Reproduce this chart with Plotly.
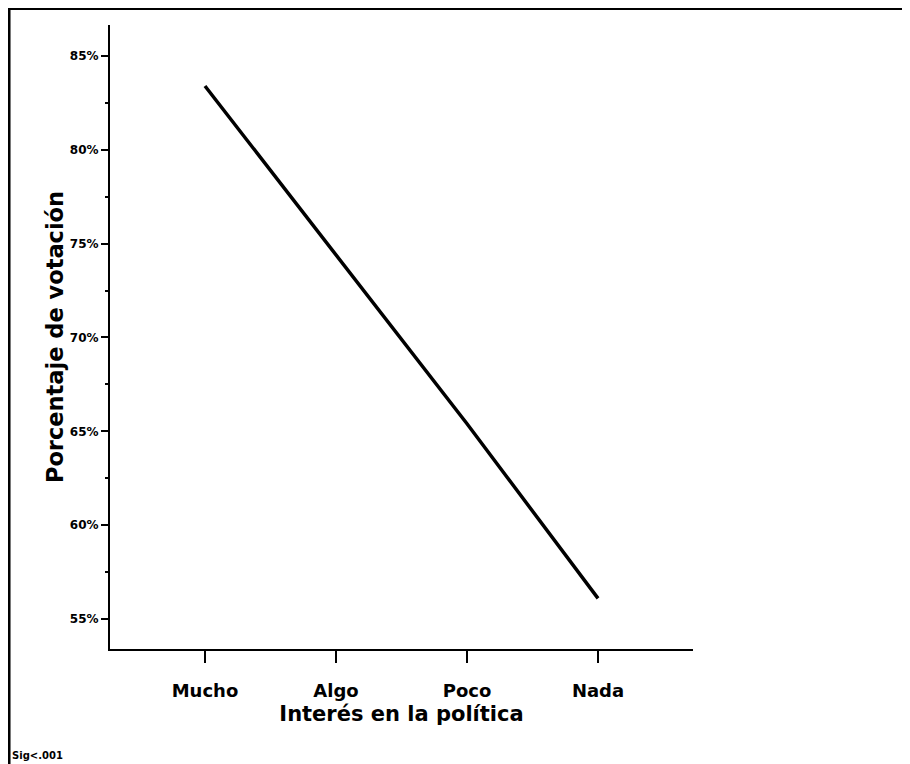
import plotly.graph_objects as go

# interés en la política vs porcentaje de votación
categorias = ['Mucho', 'Algo', 'Poco', 'Nada']
votacion = [83.4, 74.4, 65.4, 56.1]
ticks_y = [55, 60, 65, 70, 75, 80, 85]
etiquetas_y = [f'{v}%' for v in ticks_y]

fuente = 'DejaVu Sans'

fig = go.Figure()
fig.add_trace(go.Scatter(x=list(range(len(categorias))), y=votacion, mode='lines',
                         line=dict(color='black', width=3.5), showlegend=False))

fig.update_xaxes(range=[-0.725, 3.725], tickvals=list(range(len(categorias))), ticktext=categorias,
                 showline=True, linecolor='black', linewidth=2, showgrid=False, zeroline=False,
                 ticks='outside', ticklen=12, tickwidth=2, tickcolor='black', ticklabelstandoff=12,
                 tickfont=dict(family=fuente, size=18, color='black', weight='bold'),
                 title=dict(text='Interés en la política', standoff=7,
                            font=dict(family=fuente, size=21, color='black', weight='bold')))
fig.update_yaxes(range=[53.4, 86.65], tickvals=ticks_y, ticktext=etiquetas_y,
                 showline=True, linecolor='black', linewidth=2, showgrid=False, zeroline=False,
                 ticks='outside', ticklen=7, tickwidth=2, tickcolor='black',
                 minor=dict(dtick=2.5, tick0=55, ticks='outside', ticklen=3, tickwidth=2, tickcolor='black'),
                 tickfont=dict(family=fuente, size=12, color='black', weight='bold'),
                 title=dict(text='Porcentaje de votación', standoff=0,
                            font=dict(family=fuente, size=22.5, color='black', weight='bold')))

# marco de la figura (solo se ven los bordes superior e izquierdo)
fig.add_shape(type='rect', xref='paper', yref='paper', x0=-0.1732, x1=1.377, y0=-0.19, y1=1.0264,
              line=dict(color='black', width=3))

fig.add_annotation(text='Sig<.001', xref='paper', yref='paper', x=-0.1715, y=-0.1699,
                   xanchor='left', yanchor='middle', showarrow=False,
                   font=dict(family=fuente, size=10, color='black', weight='bold'))

# la página tiene 8 px de margen, por eso la figura mide 902x756
fig.update_layout(width=902, height=756, margin=dict(l=102, r=217, t=17, b=115),
                  plot_bgcolor='white', paper_bgcolor='white')

fig.write_html('out.html')
